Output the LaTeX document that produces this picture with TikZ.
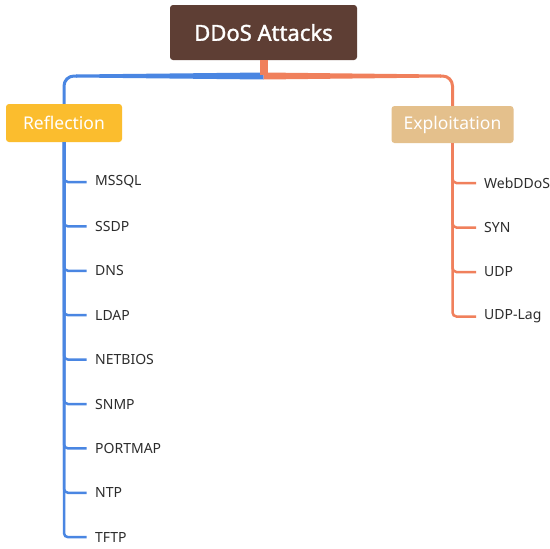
\documentclass[tikz,border=0pt]{standalone}
\usepackage{fontspec}
\setmainfont{Noto Sans}
\newfontfamily\titlefont{Noto Sans}[FakeBold=1.6]
\definecolor{titlebg}{RGB}{94,62,52}
\definecolor{reflbg}{RGB}{251,189,46}
\definecolor{explbg}{RGB}{228,192,140}
\definecolor{bluel}{RGB}{74,134,226}
\definecolor{orangel}{RGB}{240,128,92}
\definecolor{txt}{RGB}{45,45,45}
\begin{document}
\begin{tikzpicture}[x=1pt,y=-1pt,
  titlebox/.style={fill=titlebg,text=white,rounded corners=3pt,minimum width=187pt,minimum height=55pt,inner sep=0pt,font=\titlefont\fontsize{22}{26}\selectfont},
  catbox/.style={rounded corners=3pt,text=white,minimum height=38pt,inner sep=0pt,font=\fontsize{17.5}{21}\selectfont},
  item/.style={anchor=west,inner sep=0pt,text=txt,font=\fontsize{14}{17}\selectfont},
  bl/.style={draw=bluel,line width=3pt},
  orl/.style={draw=orangel,line width=3pt}]
\useasboundingbox (0,0) rectangle (550,549);
\fill[white] (0,0) rectangle (550,549);

% nodes
\node[titlebox] (title) at (263.5,32.5) {DDoS Attacks};
\node[catbox,fill=reflbg,minimum width=116pt] (refl) at (64,123) {Reflection};
\node[catbox,fill=explbg,minimum width=122pt,minimum height=37pt] (expl) at (452.5,124.5) {Exploitation};

% stem and tapered top branches
\coordinate (junc) at (263.5,76);
\coordinate (lcorner) at (77,76);
\coordinate (rcorner) at (440,76);
\fill[bluel] (263.5,72.5) -- (76,74.5) -- (76,77.5) -- (263.5,79.5) -- cycle;
\fill[orangel] (263.5,72.5) -- (441,74.5) -- (441,77.5) -- (263.5,79.5) -- cycle;
\draw[bl,rounded corners=10pt] (lcorner) -| (refl.north);
\draw[orl,rounded corners=10pt] (rcorner) -| (expl.north);
\draw[draw=orangel,line width=8pt] (title.south) -- ([yshift=1pt]junc);

\node[item] (l1) at (95,182) {MSSQL};
\node[item] (l2) at (95,226.4) {SSDP};
\node[item] (l3) at (95,270.8) {DNS};
\node[item] (l4) at (95,315.2) {LDAP};
\node[item] (l5) at (95,359.6) {NETBIOS};
\node[item] (l6) at (95,404) {SNMP};
\node[item] (l7) at (95,448.4) {PORTMAP};
\node[item] (l8) at (95,492.8) {NTP};
\node[item] (l9) at (95,537.2) {TFTP};

\node[item] (r1) at (484,183) {WebDDoS};
\node[item] (r2) at (484,227.5) {SYN};
\node[item] (r3) at (484,272) {UDP};
\node[item] (r4) at (484,316.5) {UDP-Lag};

\foreach \n in {l1,l2,l3,l4,l5,l6,l7,l8,l9}
  \draw[bl,line width=2.5pt,rounded corners=4pt] (refl.south) |- ([xshift=-8.5pt]\n.west);
\foreach \n in {r1,r2,r3,r4}
  \draw[orl,line width=2.5pt,rounded corners=4pt] (expl.south) |- ([xshift=-8pt]\n.west);
\end{tikzpicture}
\end{document}
